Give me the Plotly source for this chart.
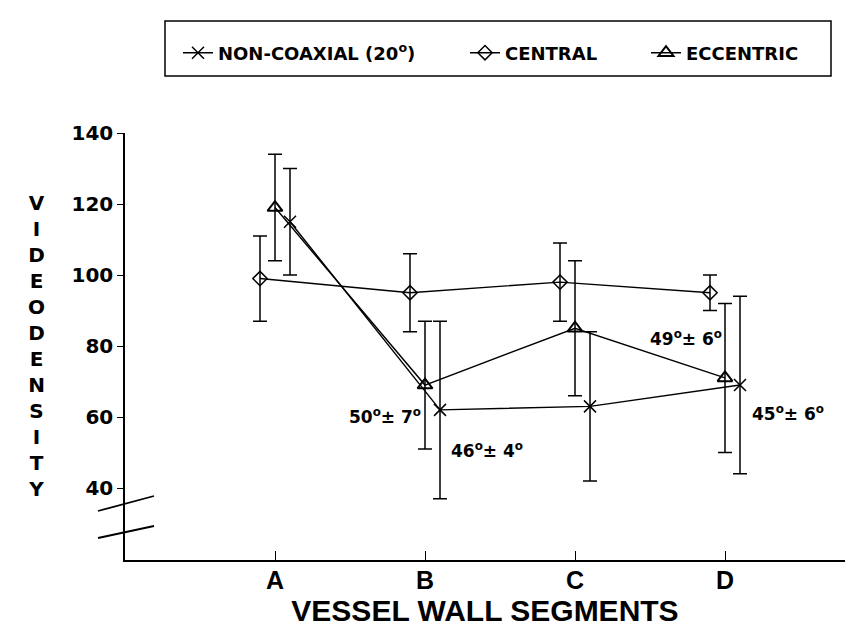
import plotly.graph_objects as go

# ---- data ----
segments = ["A", "B", "C", "D"]
seg_pos = [1, 2, 3, 4]

noncoax_mean = [115, 62, 63, 69]
noncoax_sd = [15, 25, 21, 25]

central_mean = [99, 95, 98, 95]
central_sd = [12, 11, 11, 5]

eccentric_mean = [119, 69, 85, 71]
eccentric_sd = [15, 18, 19, 21]

angle_labels = ["50<sup>o</sup>± 7<sup>o</sup>", "46<sup>o</sup>± 4<sup>o</sup>",
                "49<sup>o</sup>± 6<sup>o</sup>", "45<sup>o</sup>± 6<sup>o</sup>"]
angle_x = [1.73, 2.41, 3.74, 4.42]
angle_y = [60.3, 50.8, 82.3, 61.1]

y_ticks = [40, 60, 80, 100, 120, 140]

# ---- styling ----
OFFSET = 0.1
BOLD = "DejaVu Sans"
W = 859
H = 628
L, R, T, B = 117, 22, 125, 76

def err(sd):
    return dict(type="data", array=sd, visible=True, color="black", thickness=1.5, width=7)

fig = go.Figure()
fig.add_trace(go.Scatter(
    x=[p + OFFSET for p in seg_pos], y=noncoax_mean, error_y=err(noncoax_sd),
    mode="lines+markers", name="NON-COAXIAL (20<sup>o</sup>)",
    line=dict(color="black", width=1.4),
    marker=dict(symbol="x-thin", size=12, line=dict(color="black", width=1.5)),
    legend="legend"))
fig.add_trace(go.Scatter(
    x=[p - OFFSET for p in seg_pos], y=central_mean, error_y=err(central_sd),
    mode="lines+markers", name="CENTRAL",
    line=dict(color="black", width=1.4),
    marker=dict(symbol="diamond-open", size=11, color="black", line=dict(color="black", width=1.5)),
    legend="legend2"))
fig.add_trace(go.Scatter(
    x=seg_pos, y=eccentric_mean, error_y=err(eccentric_sd),
    mode="lines+markers", name="ECCENTRIC",
    line=dict(color="black", width=1.4),
    marker=dict(symbol="triangle-up-open", size=13, color="black", line=dict(color="black", width=2)),
    legend="legend3"))

for txt, ax, ay in zip(angle_labels, angle_x, angle_y):
    fig.add_annotation(x=ax, y=ay, xref="x", yref="y", text=txt, showarrow=False,
                       font=dict(family=BOLD, size=17, color="black", weight="bold"))

pw = W - L - R
ph = H - T - B
def px(x):
    return (x - L) / pw
def py(y):
    return (H - B - y) / ph

# stacked y title
fig.add_annotation(x=px(17.5), y=py(338), xref="paper", yref="paper",
                   text="<br>".join(list("VIDEODENSITY")), showarrow=False,
                   font=dict(family=BOLD, size=20, color="black", weight="bold"))

# axis break marks
fig.add_shape(type="line", xref="paper", yref="paper", x0=px(90), y0=py(503), x1=px(146), y1=py(488),
              line=dict(color="black", width=1.8))
fig.add_shape(type="line", xref="paper", yref="paper", x0=px(90), y0=py(530), x1=px(146), y1=py(518),
              line=dict(color="black", width=1.8))
# legend frame
fig.add_shape(type="rect", xref="paper", yref="paper", x0=px(157), y0=py(68), x1=px(823), y1=py(13),
              line=dict(color="black", width=1.5))

leg_common = dict(yanchor="middle", y=py(45),
                  xanchor="left", bgcolor="rgba(0,0,0,0)", borderwidth=0,
                  font=dict(family=BOLD, size=18, color="black", weight="bold"))
fig.update_layout(
    legend=dict(x=px(170), **leg_common),
    legend2=dict(x=px(457), **leg_common),
    legend3=dict(x=px(638), **leg_common),
)

fig.update_layout(
    width=W, height=H,
    margin=dict(l=L, r=R, t=T, b=B, autoexpand=False),
    paper_bgcolor="white", plot_bgcolor="white",
    showlegend=True,
    xaxis=dict(range=[0, 4.8], tickmode="array", tickvals=seg_pos, ticktext=segments,
               ticks="inside", ticklen=9, tickwidth=1.2, tickcolor="black", ticklabelstandoff=-3,
               showline=True, linecolor="black", linewidth=1.5, showgrid=False, zeroline=False,
               tickfont=dict(family="Liberation Sans", size=25, color="black", weight="bold"),
               title=dict(text="VESSEL WALL SEGMENTS", standoff=6,
                          font=dict(family="Liberation Sans", size=30, color="black", weight="bold"))),
    yaxis=dict(range=[19.72, 140], tickmode="array", tickvals=y_ticks,
               ticks="outside", ticklen=6, tickwidth=1.2, tickcolor="black",
               showline=True, linecolor="black", linewidth=1.5, showgrid=False, zeroline=False,
               tickfont=dict(family=BOLD, size=20, color="black", weight="bold")),
)

fig.write_html("out.html")
